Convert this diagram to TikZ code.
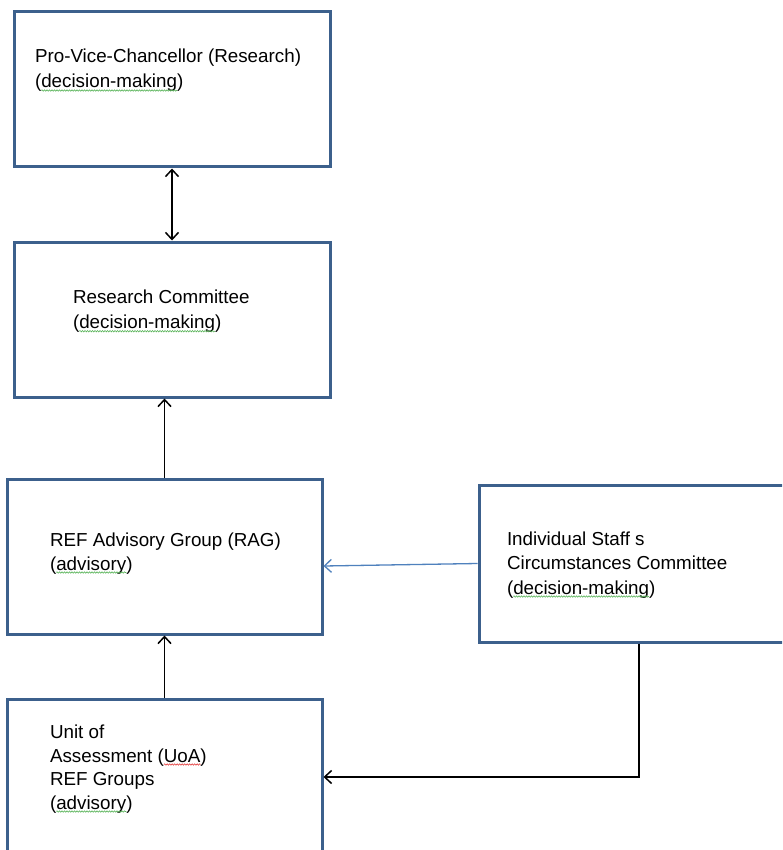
\documentclass[tikz,border=0pt]{standalone}
\usepackage{fontspec}
\setmainfont{Liberation Sans}
\usetikzlibrary{arrows.meta,calc,decorations.pathmorphing}
\definecolor{boxblue}{RGB}{60,96,140}
\definecolor{arrblue}{RGB}{79,129,189}
\definecolor{sqgreen}{RGB}{90,180,90}
\definecolor{sqred}{RGB}{225,50,50}
\begin{document}
\begin{tikzpicture}[x=1pt,y=-1pt,
  >={Straight Barb[length=7pt,width=13pt]},
  box/.style={draw=boxblue, line width=3pt, rectangle, inner sep=0pt, outer sep=1.5pt},
  txt/.style={inner sep=0pt, outer sep=0pt, anchor=base west, font=\fontsize{18.8pt}{24.5pt}\selectfont},
  conn/.style={draw=black, line width=1.5pt},
  bconn/.style={draw=arrblue, line width=1.3pt},
  sqg/.style={draw=sqgreen, line width=0.6pt, decorate, decoration={snake, segment length=2.5pt, amplitude=0.7pt}},
  sqr/.style={draw=sqred, line width=0.6pt, decorate, decoration={snake, segment length=2.5pt, amplitude=0.7pt}}]
\clip (0,0) rectangle (782,850);
\fill[white] (0,0) rectangle (782,850);

% boxes
\node[box, minimum width=316pt, minimum height=155pt] (pvc) at (172,89.5) {};
\node[box, minimum width=316pt, minimum height=155pt] (rc) at (172,319.5) {};
\node[box, minimum width=315pt, minimum height=155pt] (rag) at (164.5,556.5) {};
\node[box, minimum width=316pt, minimum height=157pt] (iscc) at (637,563.5) {};
\node[box, minimum width=315pt, minimum height=156pt] (uoa) at (164.5,777) {};

% texts: Pro-Vice-Chancellor
\node[txt] (pvcA) at (35,63) {Pro-Vice-Chancellor (Research)};
\node[txt] (pvcB1) at (35,88) {(};
\node[txt] (pvcB2) at (pvcB1.base east) {decision-making};
\node[txt] (pvcB3) at (pvcB2.base east) {)};
\draw[sqg] ($(pvcB2.base west)+(0,2.5)$) -- ($(pvcB2.base east)+(0,2.5)$);

% Research Committee
\node[txt] (rcA) at (73,303.3) {Research Committee};
\node[txt] (rcB1) at (73,328.7) {(};
\node[txt] (rcB2) at (rcB1.base east) {decision-making};
\node[txt] (rcB3) at (rcB2.base east) {)};
\draw[sqg] ($(rcB2.base west)+(0,2.5)$) -- ($(rcB2.base east)+(0,2.5)$);

% RAG
\node[txt] (ragA) at (50,546) {REF Advisory Group (RAG)};
\node[txt] (ragB1) at (50,570) {(};
\node[txt] (ragB2) at (ragB1.base east) {advisory};
\node[txt] (ragB3) at (ragB2.base east) {)};
\draw[sqg] ($(ragB2.base west)+(0,2.5)$) -- ($(ragB2.base east)+(0,2.5)$);

% ISCC
\node[txt] (isccA) at (507,545) {Individual Staff s};
\node[txt] (isccB) at (507,569) {Circumstances Committee};
\node[txt] (isccC1) at (507,594) {(};
\node[txt] (isccC2) at (isccC1.base east) {decision-making};
\node[txt] (isccC3) at (isccC2.base east) {)};
\draw[sqg] ($(isccC2.base west)+(0,2.5)$) -- ($(isccC2.base east)+(0,2.5)$);

% UoA
\node[txt] (uoaA) at (50,738) {Unit of};
\node[txt] (uoaB1) at (50,762) {Assessment (};
\node[txt] (uoaB2) at (uoaB1.base east) {UoA};
\node[txt] (uoaB3) at (uoaB2.base east) {)};
\draw[sqr] ($(uoaB2.base west)+(0,2.5)$) -- ($(uoaB2.base east)+(0,2.5)$);
\node[txt] (uoaC) at (50,785) {REF Groups};
\node[txt] (uoaD1) at (50,809) {(};
\node[txt] (uoaD2) at (uoaD1.base east) {advisory};
\node[txt] (uoaD3) at (uoaD2.base east) {)};
\draw[sqg] ($(uoaD2.base west)+(0,2.5)$) -- ($(uoaD2.base east)+(0,2.5)$);

% connectors
\draw[conn,<->] (pvc.south) -- (rc.north);
\draw[conn,->] (rag.north) -- (rag.north |- rc.south);
\draw[conn,->] (uoa.north) -- (rag.south);
\draw[bconn,->] (iscc.west) -- ($(rag.east)+(0,9.5)$);
\draw[conn,->] ($(iscc.south)+(2,0)$) |- (uoa.east);
\end{tikzpicture}
\end{document}
